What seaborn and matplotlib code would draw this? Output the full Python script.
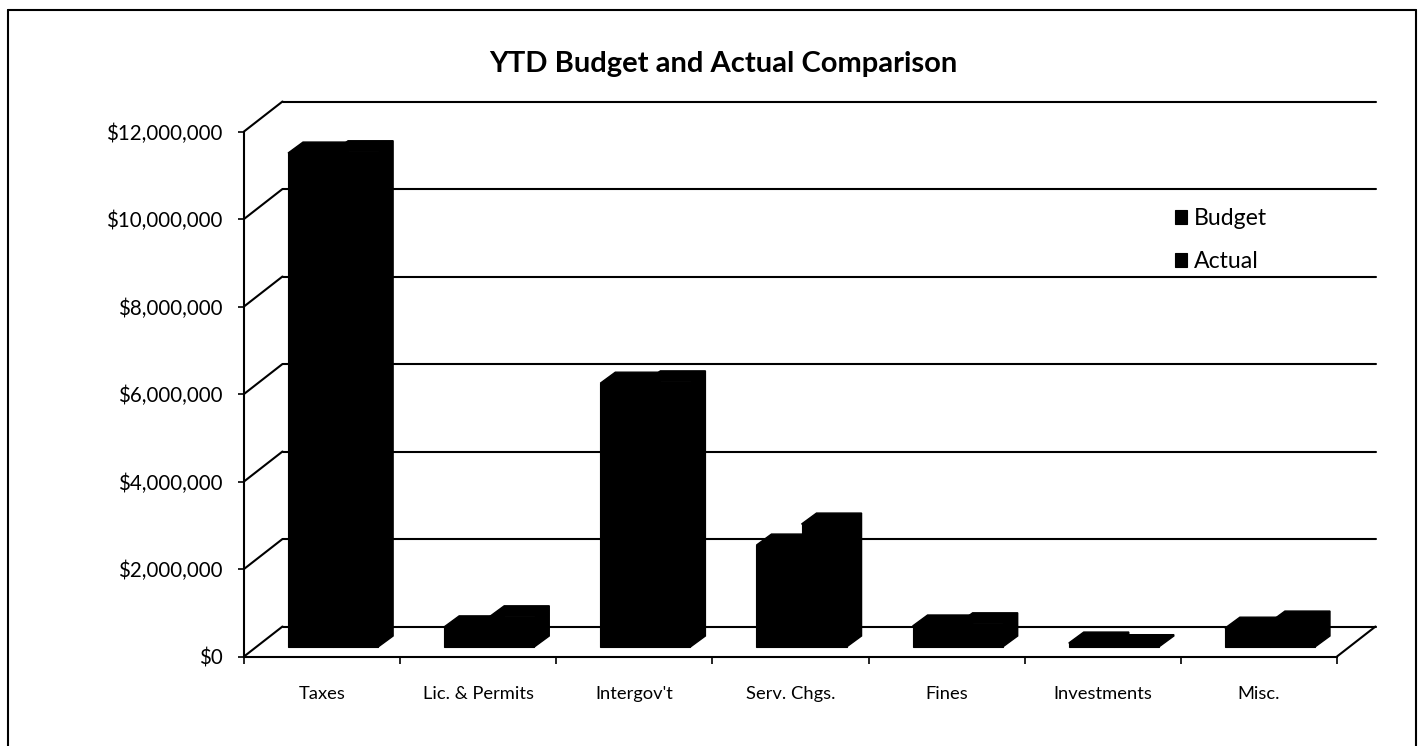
import numpy as np
import pandas as pd
import seaborn as sns
import matplotlib
matplotlib.use("Agg")
import matplotlib.pyplot as plt
from matplotlib.lines import Line2D
from matplotlib.patches import Polygon
from matplotlib.transforms import Affine2D, IdentityTransform

categories = ["Taxes", "Lic. & Permits", "Intergov't", "Serv. Chgs.", "Fines", "Investments", "Misc."]
budget = [11290000, 460000, 6030000, 2330000, 480000, 90000, 430000]
actual = [11320000, 690000, 6060000, 2810000, 530000, 30000, 570000]
series_names = ["Budget", "Actual"]
y_ticks = [0, 2000000, 4000000, 6000000, 8000000, 10000000, 12000000]
title = "YTD Budget and Actual Comparison"

W, H = 1422, 746
sns.set_theme(style="white")
plt.rcParams["font.family"] = ["Lato", "DejaVu Sans"]
fig = plt.figure(figsize=(W / 100, H / 100), dpi=100, facecolor="white")
ax = fig.add_axes([244 / W, 1 - 656.5 / H, (1337 - 244) / W, (656.5 - 131.5) / H])
ax.patch.set_alpha(0)

df = pd.DataFrame({
    "category": categories * 2,
    "value": budget + actual,
    "series": [series_names[0]] * len(categories) + [series_names[1]] * len(categories),
})
sns.barplot(data=df, x="category", y="value", hue="series", ax=ax,
            palette=["black", "black"], width=0.577, gap=0, saturation=1,
            edgecolor="black", linewidth=0.8, errorbar=None, zorder=3)
ax.set_xlim(-0.5, len(categories) - 0.5)
ax.set_ylim(0, y_ticks[-1])
ax.set_xlabel("")
ax.set_ylabel("")

# Pseudo-3D geometry in pixels
BACK = (38.5, 30.0)      # back wall offset from front plane
SHIFT = (11.0, 9.5)      # bar front faces relative to front plane
DEPTH = (15.0, 11.0)     # bar depth
back_tr = ax.transData + Affine2D().translate(*BACK)
shift_tr = ax.transData + Affine2D().translate(*SHIFT)
LW = 1.5

# back wall gridlines and left wall diagonals
x0, x1 = ax.get_xlim()
for v in y_ticks:
    ax.plot([x0, x1], [v, v], color="black", lw=LW, transform=back_tr, clip_on=False, zorder=1)
    px, py = ax.transData.transform((x0, v))
    ax.add_line(Line2D([px, px + BACK[0]], [py, py + BACK[1]], color="black", lw=LW,
                       transform=IdentityTransform(), clip_on=False, zorder=1))
px, py = ax.transData.transform((x1, 0))
ax.add_line(Line2D([px, px + BACK[0]], [py, py + BACK[1]], color="black", lw=LW,
                   transform=IdentityTransform(), clip_on=False, zorder=1))

# bars: move front faces, then add top and side faces derived from each bar
bars = [p for c in ax.containers for p in c]
for bar in bars:
    bx0, by0 = bar.get_xy()
    bx1, by1 = bx0 + bar.get_width(), by0 + bar.get_height()
    (a, b), (c, d) = shift_tr.transform([(bx0, by0), (bx1, by1)])
    bar.set_transform(shift_tr)
    bar.set_clip_on(False)
    dx, dy = DEPTH
    face = [(a, d), (a + dx, d + dy), (c + dx, d + dy), (c + dx, b + dy), (c, b), (c, d)]
    ax.add_patch(Polygon(face, closed=True, facecolor="black", edgecolor="black", lw=1.0,
                         transform=IdentityTransform(), clip_on=False, zorder=3))

# axes
sns.despine(ax=ax, top=True, right=True)
for s in ("left", "bottom"):
    ax.spines[s].set_linewidth(LW)
    ax.spines[s].set_color("black")
ax.set_yticks(y_ticks)
ax.set_yticklabels([f"${v:,.0f}" for v in y_ticks])
ax.set_xticks(range(len(categories)))
ax.set_xticklabels(categories)
ax.set_xticks(np.arange(x0, x1 + 0.01, 1.0), minor=True)
ax.tick_params(axis="y", which="major", left=True, length=4.5, width=1.2, color="black",
               pad=11, labelsize=14.8, labelcolor="black")
ax.tick_params(axis="x", which="major", bottom=False, length=0, pad=21, labelsize=13.2,
               labelcolor="black")
ax.tick_params(axis="x", which="minor", bottom=True, length=5, width=1.2, color="black")

# legend
handles, labels = ax.get_legend_handles_labels()
ax.legend(handles, labels, loc="center left", bbox_to_anchor=((1163 - 244) / (1337 - 244), (656.5 - 240) / 525),
          frameon=False, fontsize=16.6, handlelength=0.55, handleheight=0.55, handletextpad=0.3,
          labelspacing=0.95, labelcolor="black", borderpad=0)

# title
fig.text(723 / W, 1 - 64 / H, title, ha="center", va="center", fontsize=21, fontweight="bold", color="black")

# outer frame (bottom edge lies outside the crop)
for xs, ys in [((8, 8), (746, 10)), ((8, 1416), (10, 10)), ((1416, 1416), (10, 746))]:
    fig.add_artist(Line2D([x / W for x in xs], [1 - y / H for y in ys], color="black", lw=1.5))

fig.savefig("out.png", dpi=100, facecolor="white")
